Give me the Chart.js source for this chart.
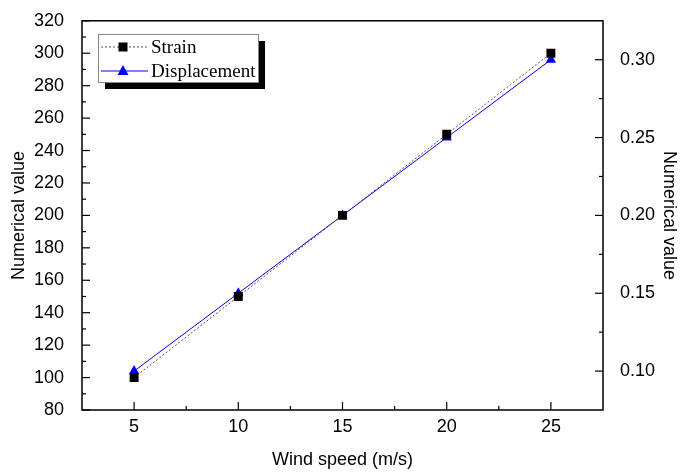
<!DOCTYPE html>
<html lang="en">
<head>
<meta charset="UTF-8">
<title>Strain and displacement vs wind speed</title>
<script src="https://cdn.jsdelivr.net/npm/chart.js"></script>
<style>
  html, body { margin: 0; padding: 0; background: #fff; }
  canvas { display: block; }
</style>
</head>
<body>
<canvas id="chart" width="680" height="474"></canvas>
<script>
  // data
  const windSpeed = [5, 10, 15, 20, 25];
  const strain = [100, 150, 200, 250, 300];
  const displacement = [0.10, 0.15, 0.20, 0.25, 0.30];

  // axis ticks
  const xTicks = [5, 10, 15, 20, 25];
  const xMinor = [7.5, 12.5, 17.5, 22.5];
  const leftTicks = [80, 100, 120, 140, 160, 180, 200, 220, 240, 260, 280, 300, 320];
  const leftMinor = [90, 110, 130, 150, 170, 190, 210, 230, 250, 270, 290, 310];
  const rightTicks = [0.10, 0.15, 0.20, 0.25, 0.30];
  const rightMinor = [0.125, 0.175, 0.225, 0.275];

  const sans = "'Liberation Sans', Arial, sans-serif";
  const serif = "'Liberation Serif', 'Times New Roman', serif";

  // box around the plot + inward tick marks
  const frame = {
    id: 'frame',
    afterDatasetsDraw(chart) {
      const { ctx, chartArea: a, scales } = chart;
      ctx.save();
      ctx.strokeStyle = '#000';
      ctx.lineWidth = 1.5;
      ctx.strokeRect(a.left, a.top, a.right - a.left, a.bottom - a.top);
      ctx.lineWidth = 1.2;
      const seg = (x1, y1, x2, y2) => {
        ctx.beginPath();
        ctx.moveTo(x1, y1);
        ctx.lineTo(x2, y2);
        ctx.stroke();
      };
      xTicks.forEach(v => { const x = scales.x.getPixelForValue(v); seg(x, a.bottom, x, a.bottom - 8); });
      xMinor.forEach(v => { const x = scales.x.getPixelForValue(v); seg(x, a.bottom, x, a.bottom - 4); });
      leftTicks.forEach(v => { const y = scales.y.getPixelForValue(v); seg(a.left, y, a.left + 8, y); });
      leftMinor.forEach(v => { const y = scales.y.getPixelForValue(v); seg(a.left, y, a.left + 4, y); });
      rightTicks.forEach(v => { const y = scales.y1.getPixelForValue(v); seg(a.right, y, a.right - 8, y); });
      rightMinor.forEach(v => { const y = scales.y1.getPixelForValue(v); seg(a.right, y, a.right - 4, y); });
      ctx.restore();
    }
  };

  // Origin-style legend box with a drop shadow
  const boxLegend = {
    id: 'boxLegend',
    afterDraw(chart) {
      const { ctx } = chart;
      const x = 98, y = 34, w = 160, h = 48;
      ctx.save();
      ctx.fillStyle = '#000';
      ctx.fillRect(x + 7, y + 7, w, h);
      ctx.fillStyle = '#fff';
      ctx.fillRect(x, y, w, h);
      ctx.strokeStyle = '#888';
      ctx.lineWidth = 1;
      ctx.strokeRect(x + 0.5, y + 0.5, w, h);

      chart.data.datasets.forEach((ds, i) => {
        const cy = y + 13 + i * 24;
        const x1 = x + 3, x2 = x + 50, mx = x + 25;
        ctx.strokeStyle = ds.borderColor;
        ctx.lineWidth = ds.borderWidth;
        ctx.setLineDash(ds.borderDash || []);
        ctx.beginPath();
        ctx.moveTo(x1, cy);
        ctx.lineTo(x2, cy);
        ctx.stroke();
        ctx.setLineDash([]);
        ctx.fillStyle = ds.pointBackgroundColor;
        ctx.beginPath();
        if (ds.pointStyle === 'rect') {
          ctx.rect(mx - 4.5, cy - 4.5, 9, 9);
        } else {
          ctx.moveTo(mx, cy - 6);
          ctx.lineTo(mx + 5.5, cy + 4);
          ctx.lineTo(mx - 5.5, cy + 4);
          ctx.closePath();
        }
        ctx.fill();
        ctx.fillStyle = '#000';
        ctx.font = '19px ' + serif;
        ctx.textBaseline = 'middle';
        ctx.fillText(ds.label, x2 + 3, cy + 1);
      });
      ctx.restore();
    }
  };

  const ctx = document.getElementById('chart').getContext('2d');
  new Chart(ctx, {
    type: 'line',
    data: {
      datasets: [{
        label: 'Strain',
        data: windSpeed.map((v, i) => ({ x: v, y: strain[i] })),
        yAxisID: 'y',
        borderColor: '#555',
        borderWidth: 1,
        borderDash: [2, 2],
        pointStyle: 'rect',
        pointRadius: 6.3,
        pointBorderWidth: 0,
        pointBackgroundColor: '#000',
        pointBorderColor: '#000',
        tension: 0
      }, {
        label: 'Displacement',
        data: windSpeed.map((v, i) => ({ x: v, y: displacement[i] })),
        yAxisID: 'y1',
        borderColor: '#0000ff',
        borderWidth: 1,
        pointStyle: 'triangle',
        pointRadius: 6,
        pointBorderWidth: 0,
        pointBackgroundColor: '#0000ff',
        pointBorderColor: '#0000ff',
        tension: 0
      }]
    },
    options: {
      responsive: false,
      animation: false,
      devicePixelRatio: 1,
      layout: { padding: { top: 18, left: 0, right: 0, bottom: 0 } },
      plugins: {
        legend: { display: false },
        tooltip: { enabled: false }
      },
      scales: {
        x: {
          type: 'linear',
          position: 'bottom',
          min: 2.5,
          max: 27.5,
          afterBuildTicks: s => { s.ticks = xTicks.map(v => ({ value: v })); },
          afterFit: s => { s.height = 64; },
          grid: { display: false },
          border: { display: false },
          ticks: { color: '#000', font: { family: sans, size: 18 }, padding: -2, maxRotation: 0 },
          title: { display: true, text: 'Wind speed (m/s)', color: '#000', font: { family: sans, size: 18 }, padding: { top: 0, bottom: 3 } }
        },
        y: {
          position: 'left',
          min: 80,
          max: 320,
          afterBuildTicks: s => { s.ticks = leftTicks.map(v => ({ value: v })); },
          afterFit: s => { s.width = 82; },
          grid: { display: false },
          border: { display: false },
          ticks: { color: '#000', font: { family: sans, size: 18 }, padding: 10 },
          title: { display: true, text: 'Numerical value', color: '#000', font: { family: sans, size: 18 }, padding: { top: 8, bottom: 0 } }
        },
        y1: {
          position: 'right',
          min: 0.075,
          max: 0.325,
          afterBuildTicks: s => { s.ticks = rightTicks.map(v => ({ value: v })); },
          afterFit: s => { s.width = 77; },
          grid: { display: false },
          border: { display: false },
          ticks: { color: '#000', font: { family: sans, size: 18 }, padding: 9, callback: v => v.toFixed(2) },
          title: { display: true, text: 'Numerical value', color: '#000', font: { family: sans, size: 18 }, padding: { top: 0, bottom: 0 } }
        }
      }
    },
    plugins: [frame, boxLegend]
  });
</script>
</body>
</html>
